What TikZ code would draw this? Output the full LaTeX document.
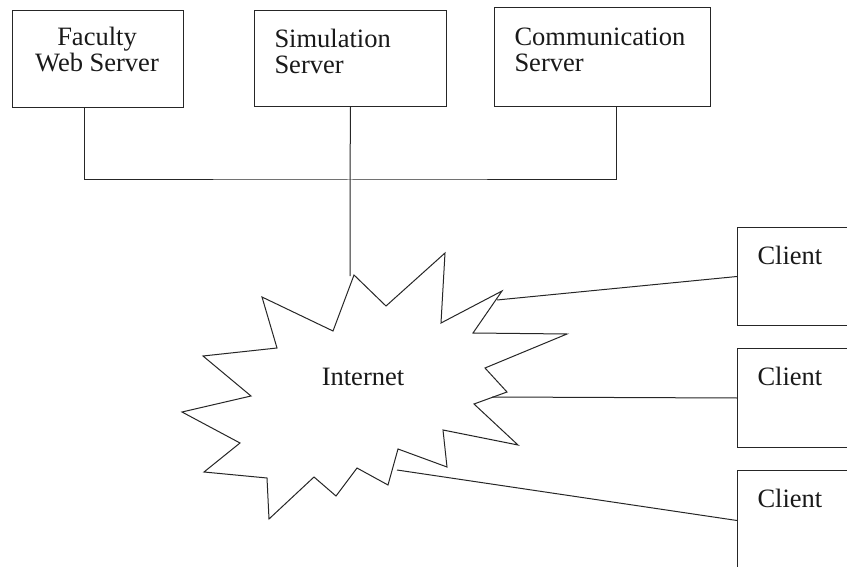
\documentclass[tikz,border=0pt]{standalone}
\usepackage{fontspec}
\setmainfont{Liberation Serif}
\begin{document}
\begin{tikzpicture}[x=1pt,y=-1pt,
  line width=1pt, draw=black!85,
  box/.style={draw, rectangle, inner sep=0pt, anchor=north west},
  txt/.style={inner sep=0pt, font=\fontsize{26.5}{26}\selectfont, text=black!90},
  wire/.style={draw, line width=1pt}]
\useasboundingbox (0,0) rectangle (847,567);
\clip (0,0) rectangle (847,567);

% server boxes
\node[box, minimum width=171pt, minimum height=97pt] (fac) at (12,10) {};
\node[box, minimum width=192pt, minimum height=96pt] (sim) at (254,10) {};
\node[box, minimum width=216pt, minimum height=99pt] (com) at (494,7) {};
\node[txt, align=center] (facT) at (97,50) {Faculty\\Web Server};
\node[txt, align=left, anchor=west] (simT) at (274,51) {Simulation\\Server};
\node[txt, align=left, anchor=west] (comT) at (514,50) {Communication\\Server};

% client boxes (run past the right border)
\node[box, minimum width=140pt, minimum height=98pt] (c1) at (737,227) {};
\node[box, minimum width=140pt, minimum height=99pt] (c2) at (737,348) {};
\node[box, minimum width=140pt, minimum height=100pt] (c3) at (737,470) {};
\node[txt, anchor=west] (c1T) at (757,255) {Client};
\node[txt, anchor=west] (c2T) at (757,376) {Client};
\node[txt, anchor=west] (c3T) at (757,498) {Client};

% Internet cloud
\draw[fill=white] (354,275) -- (386,306) -- (445,253) -- (441,323) -- (502,291)
  -- (473,333) -- (567,334) -- (485,368) -- (507,392) -- (474,404) -- (518,445)
  -- (443,430) -- (447,467) -- (398,449) -- (388,485) -- (357,468) -- (336,496)
  -- (314,477) -- (269,519) -- (267,478) -- (204,472) -- (240,443) -- (182,412)
  -- (251,396) -- (203,356) -- (277,348) -- (262,297) -- (333,331) -- cycle;
\node[txt] (net) at (363,377) {Internet};

% attachment points on the cloud
\coordinate (top) at (350,276);
\coordinate (p1) at (497,300);
\coordinate (p2) at (492,397);
\coordinate (p3) at (397,470);
\coordinate (hub) at (350,180);

% server bus
\draw[wire] ([xshift=-13.5pt]fac.south) |- (hub) -| ([xshift=14pt]com.south);
\draw[wire] (sim.south) -- (hub) -- (top);

% client links
\draw[wire] (p1) -- (c1.west);
\draw[wire] (p2) -- (c2.west);
\draw[wire] (p3) -- (c3.west);
\end{tikzpicture}
\end{document}
